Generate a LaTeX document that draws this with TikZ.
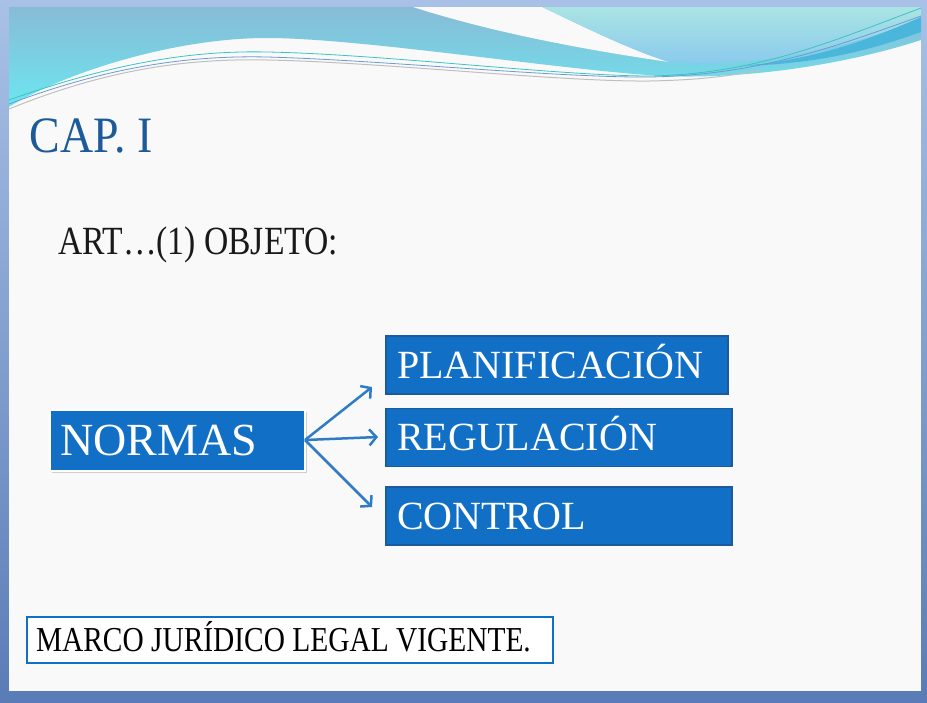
\documentclass[tikz,border=0pt]{standalone}
\usepackage{fontspec}
\setmainfont{Liberation Serif}
\newfontfamily\titulofont[FakeStretch=0.9]{Liberation Serif}
\newfontfamily\angostafont[FakeStretch=0.84]{Liberation Serif}
\usetikzlibrary{arrows.meta,shadows}

\definecolor{cajaazul}{HTML}{1170C6}
\definecolor{bordeazul}{HTML}{1B5A9C}
\definecolor{flechaazul}{HTML}{2E7BC6}
\definecolor{tituloazul}{HTML}{1D5A9A}
\definecolor{marcoclaro}{HTML}{A9C1E6}
\definecolor{marcooscuro}{HTML}{5A7CB6}
\definecolor{fondo}{HTML}{F9F9F9}
\definecolor{olatop}{HTML}{88BBD6}
\definecolor{olabajo}{HTML}{6CE6F0}
\definecolor{cielotop}{HTML}{AAE4E4}
\definecolor{cielobajo}{HTML}{88C8EE}
\definecolor{bandaazul}{HTML}{4AB6DC}
\definecolor{lineateal}{HTML}{3CC4C0}
\definecolor{lineaazul}{HTML}{2F6FC0}

\begin{document}
\begin{tikzpicture}
            [x=1pt,y=-1pt,every node/.style={inner sep=0,outer sep=0},
             caja/.style={fill=cajaazul,draw=bordeazul,line width=1.5pt,text=white,align=left,
               minimum height=58pt,text height=26pt,text depth=0pt,inner xsep=11pt,
               font=\fontsize{40}{42}\selectfont},
             flecha/.style={draw=flechaazul,line width=2.5pt,-{Straight Barb[length=7pt,width=16pt]}}]

            \useasboundingbox (0,0) rectangle (927,702);
            \shade[top color=marcoclaro, bottom color=marcooscuro] (0,0) rectangle (927,702);
            \fill[fondo] (9,7) rectangle (921,691);

            \shade[top color=olatop, bottom color=olabajo] (9,7) -- (921,7) -- (921,40)
              .. controls (860,60) and (760,80) .. (662,76)
              .. controls (560,70) and (360,38) .. (267,38)
              .. controls (170,38) and (60,75) .. (9,107) -- cycle;
            \fill[fondo] (413,7) -- (542,7) .. controls (580,25) and (630,50) .. (669,62)
              .. controls (600,52) and (500,35) .. (413,7) -- cycle;
            \shade[top color=cielotop, bottom color=cielobajo] (542,7) -- (921,7) -- (921,18)
              .. controls (850,48) and (760,68) .. (669,62)
              .. controls (630,50) and (580,25) .. (542,7) -- cycle;
            \fill[bandaazul] (740,66) .. controls (820,60) and (880,35) .. (921,17) -- (921,32)
              .. controls (870,50) and (820,64) .. (740,66) -- cycle;
            \draw[gray!50, line width=1pt] (9,109) .. controls (100,72) and (180,58) .. (267,60)
              .. controls (380,62) and (560,82) .. (650,81) .. controls (700,80) and (730,76) .. (760,70);
            \draw[lineaazul!70, line width=0.8pt] (9,104) .. controls (100,70) and (180,55) .. (267,57)
              .. controls (380,60) and (560,78) .. (650,77) .. controls (760,75) and (840,45) .. (921,16);
            \draw[lineateal, line width=0.8pt] (9,100) .. controls (100,68) and (180,50) .. (267,52)
              .. controls (380,54) and (560,76) .. (650,76) .. controls (760,74) and (840,38) .. (921,8);

            \node[anchor=base west, text=tituloazul, font={\titulofont\fontsize{51}{53}\selectfont}] (cap) at (30,152) {CAP. I};
            \node[anchor=base west, text=black!90, font={\angostafont\fontsize{40}{42}\selectfont}] (art) at (58,254) {ART…(1) OBJETO:};

            \node[fill=cajaazul, draw=white, line width=2pt, text=white, align=left, text width=235pt,
              inner xsep=10pt, minimum height=61pt, text height=30pt, text depth=0pt,
              font=\fontsize{46}{48}\selectfont,
              drop shadow={shadow xshift=1.5pt, shadow yshift=-2.5pt, opacity=0.35}] (normas) at (177.5,440) {NORMAS};
            \node[caja, text width=320pt] (planif) at (557,365) {PLANIFICACIÓN};
            \node[caja, text width=324pt] (regul) at (559,437.5) {REGULACIÓN};
            \node[caja, text width=324pt] (control) at (559,516) {CONTROL};

            \coordinate (pPlan) at (372,387);
            \coordinate (pRegul) at (378,437);
            \coordinate (pControl) at (372,507);

            \draw[flecha] (normas.east) -- (pPlan);
            \draw[flecha] (normas.east) -- (pRegul);
            \draw[flecha] (normas.east) -- (pControl);

            \node[fill=white, draw=cajaazul, line width=2pt, align=left, text width=508pt, inner xsep=9pt,
              minimum height=46pt, text height=23pt, text depth=0pt,
              font={\angostafont\fontsize{35}{37}\selectfont}] (marco) at (290,640) {\spaceskip=0.21em MARCO JURÍDICO LEGAL VIGENTE.};
          \end{tikzpicture}
\end{document}
